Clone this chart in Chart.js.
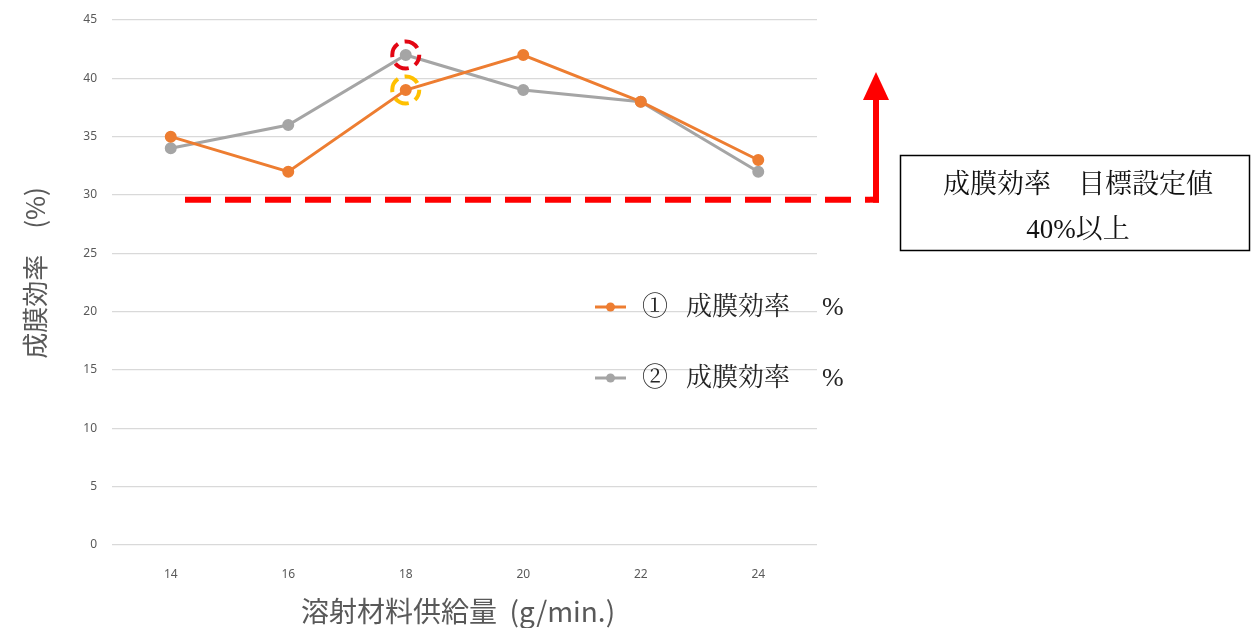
<!DOCTYPE html>
<html>
<head>
<meta charset="utf-8">
<script src="https://cdn.jsdelivr.net/npm/chart.js@4"></script>
<style>
  html, body { margin: 0; padding: 0; background: #fff; }
  #wrap { width: 1251px; height: 628px; position: relative; }
</style>
</head>
<body>
<div id="wrap"><canvas id="chart"></canvas></div>
<script>
const feedRates = ["14", "16", "18", "20", "22", "24"];
const efficiency1 = [35, 32, 39, 42, 38, 33];
const efficiency2 = [34, 36, 42, 39, 38, 32];
const yTicks = [0, 5, 10, 15, 20, 25, 30, 35, 40, 45];
const seriesMarks = ["①", "②"];
const seriesName = "成膜効率";
const targetLine = 29.6;
const targetText = ["成膜効率　目標設定値", "40%以上"];
const highlights = [
  { index: 2, value: 42, color: "#E30613" },
  { index: 2, value: 39, color: "#FFC000" },
];

const ORANGE = "#ED7D31";
const GRAY = "#A5A5A5";
const TEXT = "#595959";
const SERIF = "'Liberation Serif', 'Noto Serif CJK JP', 'Noto Sans CJK JP'";

// annotations, legend, titles
const overlay = {
  id: "overlay",
  afterDatasetsDraw(chart) {
    const ctx = chart.ctx;
    const x = chart.scales.x;
    const y = chart.scales.y;

    // dashed circles
    highlights.forEach((h) => {
      ctx.save();
      ctx.strokeStyle = h.color;
      ctx.lineWidth = 4;
      ctx.setLineDash([15, 7]);
      ctx.lineDashOffset = 4;
      ctx.beginPath();
      ctx.arc(x.getPixelForValue(h.index), y.getPixelForValue(h.value), 13.5, 0, Math.PI * 2);
      ctx.stroke();
      ctx.restore();
    });

    // target dashed line + arrow
    const ty = y.getPixelForValue(targetLine);
    const ax = 876;
    ctx.save();
    ctx.strokeStyle = "#FF0000";
    ctx.lineWidth = 6;
    ctx.setLineDash([26, 14]);
    ctx.beginPath();
    ctx.moveTo(185, ty);
    ctx.lineTo(ax - 6, ty);
    ctx.stroke();
    ctx.setLineDash([]);
    ctx.beginPath();
    ctx.moveTo(ax - 6, ty);
    ctx.lineTo(ax + 3, ty);
    ctx.stroke();
    ctx.beginPath();
    ctx.moveTo(ax, ty + 3);
    ctx.lineTo(ax, 98);
    ctx.stroke();
    ctx.fillStyle = "#FF0000";
    ctx.beginPath();
    ctx.moveTo(ax, 72);
    ctx.lineTo(ax + 13, 100);
    ctx.lineTo(ax - 13, 100);
    ctx.closePath();
    ctx.fill();
    ctx.restore();

    // target box
    ctx.save();
    ctx.strokeStyle = "#000";
    ctx.lineWidth = 1.5;
    ctx.strokeRect(900.5, 155.5, 349, 95);
    ctx.fillStyle = "#111";
    ctx.font = "27px " + SERIF;
    ctx.textAlign = "center";
    ctx.textBaseline = "middle";
    ctx.fillText(targetText[0], 1078, 186);
    ctx.fillText(targetText[1], 1078, 231);
    ctx.restore();

    // legend
    const colors = [ORANGE, GRAY];
    const ly = [308, 379];
    ctx.save();
    seriesMarks.forEach((mark, i) => {
      ctx.strokeStyle = colors[i];
      ctx.fillStyle = colors[i];
      ctx.lineWidth = 3;
      ctx.beginPath();
      ctx.moveTo(595, ly[i] - 1);
      ctx.lineTo(626, ly[i] - 1);
      ctx.stroke();
      ctx.beginPath();
      ctx.arc(610.5, ly[i] - 1, 4.5, 0, Math.PI * 2);
      ctx.fill();
      ctx.fillStyle = "#262626";
      ctx.font = "26px " + SERIF;
      ctx.textBaseline = "middle";
      ctx.fillText(mark, 642, ly[i]);
      ctx.fillText(seriesName, 686, ly[i]);
      ctx.fillText("%", 822, ly[i]);
    });
    ctx.restore();

    // axis titles
    ctx.save();
    ctx.fillStyle = TEXT;
    ctx.font = "28px 'Noto Sans CJK JP'";
    ctx.textAlign = "center";
    ctx.textBaseline = "middle";
    ctx.fillText("溶射材料供給量  (g/min.)", 458, 611);
    ctx.translate(35, 273);
    ctx.rotate(-Math.PI / 2);
    ctx.font = "26px 'Noto Sans CJK JP'";
    ctx.fillText("成膜効率　(%)", 0, 0);
    ctx.restore();
  },
};

new Chart(document.getElementById("chart"), {
  type: "line",
  data: {
    labels: feedRates,
    datasets: [
      {
        label: seriesMarks[0] + " " + seriesName,
        data: efficiency1,
        borderColor: ORANGE,
        backgroundColor: ORANGE,
        borderWidth: 3,
        pointRadius: 4.5,
        pointHoverRadius: 4.5,
      },
      {
        label: seriesMarks[1] + " " + seriesName,
        data: efficiency2,
        borderColor: GRAY,
        backgroundColor: GRAY,
        borderWidth: 3,
        pointRadius: 4.5,
        pointHoverRadius: 4.5,
      },
    ],
  },
  options: {
    responsive: true,
    maintainAspectRatio: false,
    animation: false,
    layout: {
      padding: { top: 20, right: 434, bottom: 0, left: 0 },
    },
    plugins: {
      legend: { display: false },
      tooltip: { enabled: false },
    },
    scales: {
      x: {
        offset: true,
        grid: { display: false },
        border: { display: false },
        ticks: {
          color: TEXT,
          padding: 14,
          font: { family: "'Noto Sans'", size: 12 },
        },
        afterFit: (scale) => {
          scale.height = 83;
        },
      },
      y: {
        min: 0,
        max: 45,
        afterBuildTicks: (scale) => {
          scale.ticks = yTicks.map((v) => ({ value: v }));
        },
        grid: { color: "#D9D9D9", lineWidth: 1.2, drawTicks: false },
        border: { display: false },
        ticks: {
          color: TEXT,
          padding: 15,
          font: { family: "'Noto Sans'", size: 12 },
        },
        afterFit: (scale) => {
          scale.width = 112;
          scale.paddingTop = 0;
          scale.paddingBottom = 0;
        },
      },
    },
  },
  plugins: [overlay],
});
</script>
</body>
</html>
